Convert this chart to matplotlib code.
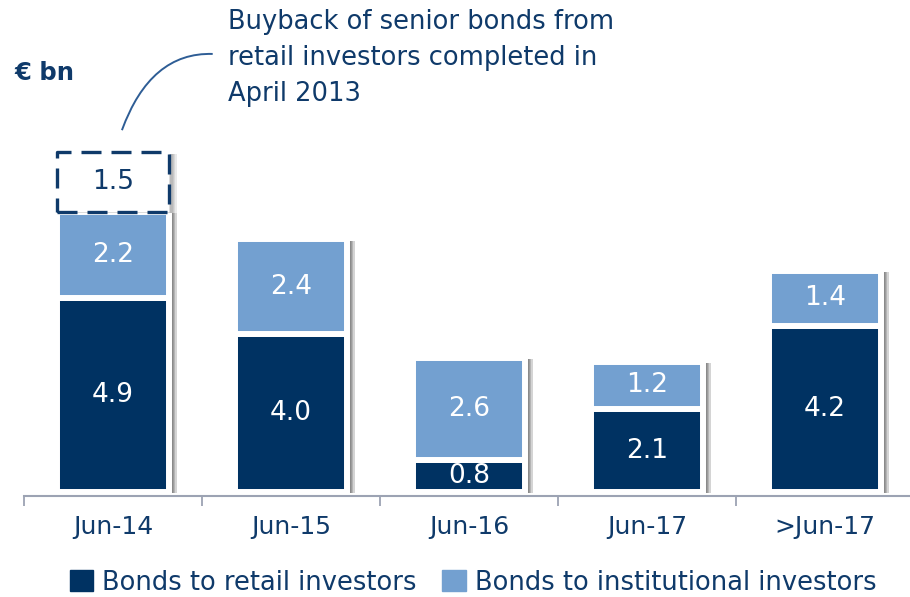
import numpy as np
import matplotlib.pyplot as plt
from matplotlib import patheffects
from matplotlib.patches import Patch, PathPatch
from matplotlib.path import Path

# maturities of senior bonds, EUR bn
periods = ['Jun-14', 'Jun-15', 'Jun-16', 'Jun-17', '>Jun-17']
retail = [4.9, 4.0, 0.8, 2.1, 4.2]
institutional = [2.2, 2.4, 2.6, 1.2, 1.4]
# retail bonds bought back in April 2013 (Jun-14 bucket only)
buyback = 1.5

DARK = '#003262'
LIGHT = '#73a0d0'
NAVY = '#0f3a6a'
GRAY = '#9ca3b3'

plt.rcParams['font.family'] = 'DejaVu Sans'

fig = plt.figure(figsize=(9.1, 5.97), dpi=100)
ax = fig.add_axes([0.0264, 0.1692, 0.978, 0.7345])

x = np.arange(len(periods))
totals = np.array(retail) + np.array(institutional)
width = 0.63

# soft drop shadow: a few stacked offsets with low alpha
def soft_shadow(alpha):
    fx = [patheffects.SimplePatchShadow(offset=(dx, -1), shadow_rgbFace='#5a5a5a', alpha=alpha)
          for dx in (2.5, 3.5, 4.5, 5.5)]
    return fx + [patheffects.Normal()]

# white backing bar carries the drop shadow, segments go on top of it
ax.bar(x, totals, width=width, color='white', edgecolor='white', linewidth=4.3,
       path_effects=soft_shadow(0.26), zorder=1)
ax.bar(x, retail, width=width, color=DARK, edgecolor='white', linewidth=4.3, zorder=2)
ax.bar(x, institutional, bottom=retail, width=width, color=LIGHT, edgecolor='white',
       linewidth=4.3, zorder=2)

# dashed box for the bought-back amount
ax.bar(x[0], buyback, bottom=totals[0], width=width, facecolor='white', edgecolor=NAVY,
       linewidth=2.4, linestyle=(0, (6, 3)), joinstyle='round',
       path_effects=soft_shadow(0.12), zorder=2)

for xi, r, i in zip(x, retail, institutional):
    ax.text(xi, r / 2, f'{r:.1f}', ha='center', va='center', color='white', fontsize=19, zorder=3)
    ax.text(xi, r + i / 2, f'{i:.1f}', ha='center', va='center', color='white', fontsize=19, zorder=3)
ax.text(x[0], totals[0] + buyback / 2, f'{buyback:.1f}', ha='center', va='center',
        color=NAVY, fontsize=19, zorder=3)

ax.set_xlim(-0.5, 4.5)
ax.set_ylim(-0.1, 11.0)
ax.set_yticks([])
for side in ['left', 'right', 'top']:
    ax.spines[side].set_visible(False)
ax.spines['bottom'].set_color(GRAY)
ax.spines['bottom'].set_linewidth(1.5)

ax.set_xticks(x, periods)
ax.tick_params(axis='x', which='major', length=0, pad=14, labelsize=18, labelcolor=NAVY)
ax.set_xticks(np.arange(-0.5, 5, 1), minor=True)
ax.tick_params(axis='x', which='minor', length=7, width=1.3, color=GRAY, direction='out')

# callout line from the dashed box up to the note
verts = [(0.05, 9.16), (0.21, 11.14), (0.56, 11.09)]
curve = PathPatch(Path(verts, [Path.MOVETO, Path.CURVE3, Path.CURVE3]), facecolor='none',
                  edgecolor='#2e5d95', linewidth=1.4, clip_on=False)
ax.add_patch(curve)

fig.text(228 / 910, 1 - 9 / 597, 'Buyback of senior bonds from\nretail investors completed in\nApril 2013',
         ha='left', va='top', fontsize=18.5, color=NAVY, linespacing=1.5)
fig.text(14 / 910, 1 - 73 / 597, '€ bn', ha='left', va='center', fontsize=17.5,
         fontweight='bold', color=NAVY)

handles = [Patch(color=DARK, label='Bonds to retail investors'),
           Patch(color=LIGHT, label='Bonds to institutional investors')]
fig.legend(handles=handles, loc='center', bbox_to_anchor=(0.52, 0.024), ncol=2, frameon=False,
           fontsize=18.5, handlelength=0.9, handleheight=0.9, handletextpad=0.35,
           columnspacing=1.0, labelcolor=NAVY)

fig.savefig('out.png', dpi=100)
